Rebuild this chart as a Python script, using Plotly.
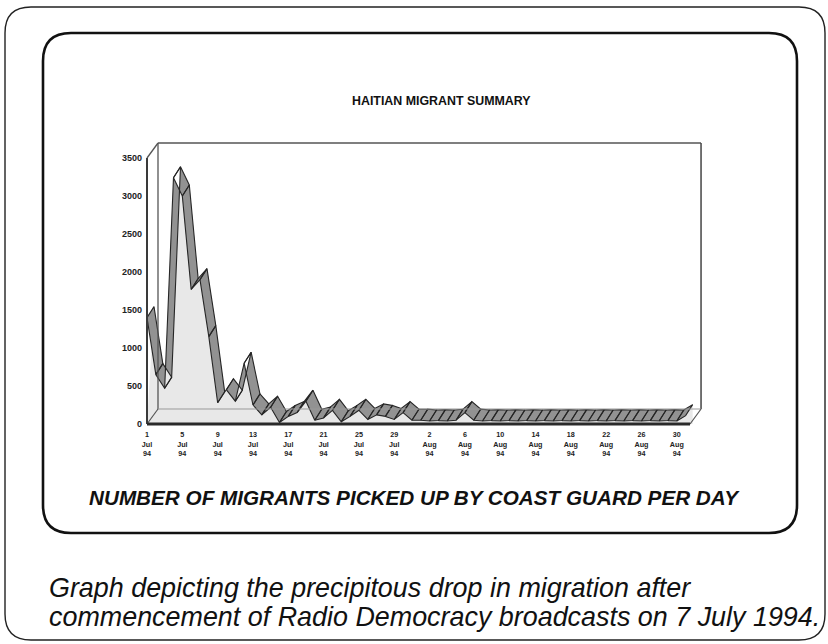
import plotly.graph_objects as go

# Daily Haitian migrant pickups, 1 Jul - 31 Aug 1994
days = list(range(1, 63))
migrants = [
    1400, 650, 470, 3240, 3000, 1770, 1900, 1150, 280, 450,
    300, 800, 250, 120, 220, 20, 100, 150, 300, 50,
    80, 180, 30, 100, 180, 60, 120, 100, 60, 150,
    50, 50, 40, 45, 40, 50, 150, 50, 40, 45,
    40, 45, 40, 45, 40, 45, 40, 45, 40, 45,
    40, 45, 40, 45, 40, 45, 40, 45, 40, 45,
    40, 110,
]
tick_days = list(range(1, 63, 4))
tick_text = [
    "1<br>Jul<br>94", "5<br>Jul<br>94", "9<br>Jul<br>94", "13<br>Jul<br>94",
    "17<br>Jul<br>94", "21<br>Jul<br>94", "25<br>Jul<br>94", "29<br>Jul<br>94",
    "2<br>Aug<br>94", "6<br>Aug<br>94", "10<br>Aug<br>94", "14<br>Aug<br>94",
    "18<br>Aug<br>94", "22<br>Aug<br>94", "26<br>Aug<br>94", "30<br>Aug<br>94",
]
y_ticks = [0, 500, 1000, 1500, 2000, 2500, 3000, 3500]

W, H = 828, 644
FONT = "Liberation Sans, Arial, Helvetica, sans-serif"

# plot geometry (pixels)
PX_L, PX_R, PX_T, PX_B = 100, 720, 130, 428
DAY1_PX, PX_PER_DAY = 147, 8.83
ZERO_PX, UNITS_PER_PX = 424, 3500 / 266

x_lo = 1 - (DAY1_PX - PX_L) / PX_PER_DAY
x_hi = 1 + (PX_R - DAY1_PX) / PX_PER_DAY
y_hi = (ZERO_PX - PX_T) * UNITS_PER_PX
y_lo = (ZERO_PX - PX_B) * UNITS_PER_PX

# 3-D depth of the chart box and of the ribbon (in data units)
BOX_DX, BOX_DY = 11 / PX_PER_DAY, 15 * UNITS_PER_PX
RIB_DX, RIB_DY = 7 / PX_PER_DAY, 11 * UNITS_PER_PX
Y_TOP = 3500
X_END = days[-1] + 0.5


def px(x, y):
    return x / W, 1 - y / H


def rounded_rect(x0, y0, x1, y1, r):
    pts = [
        ("M", [(x0 + r, y0)]), ("L", [(x1 - r, y0)]), ("Q", [(x1, y0), (x1, y0 + r)]),
        ("L", [(x1, y1 - r)]), ("Q", [(x1, y1), (x1 - r, y1)]), ("L", [(x0 + r, y1)]),
        ("Q", [(x0, y1), (x0, y1 - r)]), ("L", [(x0, y0 + r)]), ("Q", [(x0, y0), (x0 + r, y0)]),
    ]
    s = ""
    for cmd, coords in pts:
        s += cmd + " " + " ".join("%.5f,%.5f" % px(a, b) for a, b in coords) + " "
    return s + "Z"


fig = go.Figure()

# light shading under the curve
fig.add_trace(go.Scatter(
    x=[days[0]] + [d + RIB_DX for d in days] + [days[-1] + RIB_DX],
    y=[0] + [v + RIB_DY for v in migrants] + [0],
    fill="toself", fillcolor="#e8e8e8", line=dict(width=0),
    mode="lines", hoverinfo="skip", showlegend=False,
))

# ribbon: one quad per day-to-day segment
rx, ry = [], []
for i in range(len(days) - 1):
    d0, d1 = days[i], days[i + 1]
    v0, v1 = migrants[i], migrants[i + 1]
    rx += [d0, d1, d1 + RIB_DX, d0 + RIB_DX, d0, None]
    ry += [v0, v1, v1 + RIB_DY, v0 + RIB_DY, v0, None]
fig.add_trace(go.Scatter(
    x=rx, y=ry, fill="toself", fillcolor="#929292",
    line=dict(color="#262626", width=1.1), mode="lines",
    hoverinfo="skip", showlegend=False,
))

# chart box edges
frame = [
    # (x0, y0, x1, y1, color, width)
    (1, 0, 1, Y_TOP, "#3a3a3a", 2),
    (1, Y_TOP, 1 + BOX_DX, Y_TOP + BOX_DY, "#555", 1.3),
    (1 + BOX_DX, BOX_DY, 1 + BOX_DX, Y_TOP + BOX_DY, "#555", 1.3),
    (1 + BOX_DX, Y_TOP + BOX_DY, X_END + BOX_DX, Y_TOP + BOX_DY, "#555", 1.5),
    (X_END + BOX_DX, Y_TOP + BOX_DY, X_END + BOX_DX, BOX_DY, "#444", 1.5),
    (1 + BOX_DX, BOX_DY, X_END + BOX_DX, BOX_DY, "#999", 1),
    (1, 0, 1 + BOX_DX, BOX_DY, "#555", 1.2),
    (X_END, 0, X_END + BOX_DX, BOX_DY, "#555", 1.2),
    (1, 0, X_END, 0, "#2a2a2a", 3),
]
shapes = []
for x0, y0, x1, y1, c, w in frame:
    shapes.append(dict(type="line", xref="x", yref="y", x0=x0, y0=y0, x1=x1, y1=y1,
                       line=dict(color=c, width=w), layer="above"))

# page borders
shapes.append(dict(type="path", xref="paper", yref="paper",
                   path=rounded_rect(5, 7, 825, 640, 26),
                   line=dict(color="#222", width=1.4)))
shapes.append(dict(type="path", xref="paper", yref="paper",
                   path=rounded_rect(43, 33, 797, 533, 28),
                   line=dict(color="#111", width=2.6)))

ann = []
tx, ty = px(441, 101)
ann.append(dict(x=tx, y=ty, xref="paper", yref="paper", text="<b>HAITIAN MIGRANT SUMMARY</b>",
                showarrow=False, font=dict(family=FONT, size=12.4, color="#111"),
                xanchor="center", yanchor="middle"))
tx, ty = px(414, 497)
ann.append(dict(x=tx, y=ty, xref="paper", yref="paper",
                text="<b><i>NUMBER OF MIGRANTS PICKED UP BY COAST GUARD PER DAY</i></b>",
                showarrow=False, font=dict(family=FONT, size=20.7, color="#111"),
                xanchor="center", yanchor="middle"))
caption = [
    "Graph depicting the precipitous drop in migration after",
    "commencement of Radio Democracy broadcasts on 7 July 1994.",
]
for line, cy in zip(caption, (588, 617)):
    tx, ty = px(47, cy)
    ann.append(dict(x=tx, y=ty, xref="paper", yref="paper", text="<i>%s</i>" % line,
                    showarrow=False, align="left",
                    font=dict(family=FONT, size=26.9, color="#111"),
                    xanchor="left", yanchor="middle"))

fig.update_layout(
    width=W, height=H, autosize=False,
    margin=dict(l=0, r=0, t=0, b=0, pad=0),
    paper_bgcolor="white", plot_bgcolor="white",
    showlegend=False,
    shapes=shapes, annotations=ann,
    xaxis=dict(
        domain=[PX_L / W, PX_R / W], range=[x_lo, x_hi],
        tickvals=tick_days, ticktext=tick_text,
        tickfont=dict(family=FONT, size=7.2, color="#222", weight="bold"),
        showgrid=False, zeroline=False, showline=False, ticks="",
        ticklabelstandoff=1, automargin=False, fixedrange=True,
    ),
    yaxis=dict(
        domain=[1 - PX_B / H, 1 - PX_T / H], range=[y_lo, y_hi],
        tickvals=y_ticks, ticktext=[str(v) for v in y_ticks],
        tickfont=dict(family=FONT, size=9, color="#222", weight="bold"),
        anchor="free", position=DAY1_PX / W,
        showgrid=False, zeroline=False, showline=False, ticks="",
        ticklabelstandoff=5, automargin=False, fixedrange=True,
    ),
)

fig.write_html("out.html")
